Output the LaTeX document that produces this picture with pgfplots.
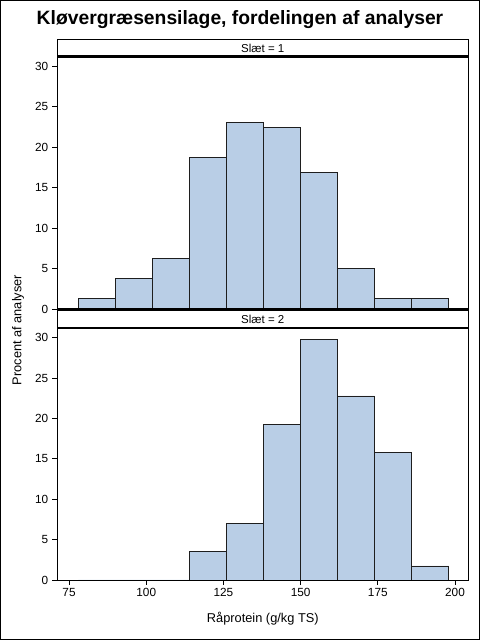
\documentclass[border=0pt]{standalone}
\usepackage{pgfplots}
\pgfplotsset{compat=1.18}
\usepackage{fontspec}
\setmainfont{Liberation Sans}
\definecolor{barfill}{RGB}{185,206,230}
\definecolor{baredge}{RGB}{30,30,30}
\begin{document}
\begin{tikzpicture}
\path[use as bounding box] (0bp,0bp) rectangle (480bp,640bp);
\draw[line width=1bp] (0.5bp,0.5bp) rectangle (479.5bp,639.5bp);
\pgfplotsset{
  panel/.style={
    scale only axis, width=411bp, height=252bp,
    xmin=71.2, xmax=204.3, ymin=0, ymax=31.15,
    axis line style={line width=0.8bp},
    ytick={0,5,10,15,20,25,30},
    tick align=outside, major tick length=5bp,
    tick style={black, line width=0.8bp},
    ytick pos=left, xtick pos=bottom,
    /pgf/number format/assume math mode=true,
    tick label style={font=\fontsize{11.8bp}{13bp}\selectfont},
    yticklabel style={xshift=-0.5bp},
  },
  hbar/.style={ybar interval, fill=barfill, draw=baredge, line width=0.8bp, mark=none},
}
\begin{axis}[panel, at={(57.3bp,331bp)}, anchor=south west, xtick=\empty]
\addplot[hbar] coordinates {(78,1.25) (90,3.75) (102,6.25) (114,18.75) (126,23.05) (138,22.45) (150,16.85) (162,5.0) (174,1.25) (186,1.25) (198,0)};
\end{axis}
\begin{axis}[panel, at={(57.3bp,60bp)}, anchor=south west, height=251.5bp,
  xtick={75,100,125,150,175,200}]
\addplot[hbar] coordinates {(78,0) (90,0) (102,0) (114,3.52) (126,7.0) (138,19.3) (150,29.8) (162,22.8) (174,15.8) (186,1.74) (198,0)};
\end{axis}
% panel headers
\draw[line width=0.8bp] (57.3bp,583.5bp) rectangle (468.3bp,600.5bp);
\draw[line width=2bp] (57.3bp,583.5bp) -- (468.3bp,583.5bp);
\node[font=\fontsize{11.5bp}{13bp}\selectfont] at (262.8bp,592bp) {Slæt = 1};
\draw[line width=0.8bp] (57.3bp,311.5bp) rectangle (468.3bp,330bp);
\draw[line width=2bp] (57.3bp,311.5bp) -- (468.3bp,311.5bp);
\draw[line width=2bp] (57.3bp,330.5bp) -- (468.3bp,330.5bp);
\node[font=\fontsize{11.5bp}{13bp}\selectfont] at (262.8bp,321bp) {Slæt = 2};
% labels
\node[font=\fontsize{19.3bp}{22bp}\selectfont\bfseries] at (240bp,620bp) {Kløvergræsensilage, fordelingen af analyser};
\node[font=\fontsize{12.8bp}{15bp}\selectfont, rotate=90] at (18bp,310bp) {Procent af analyser};
\node[font=\fontsize{12.8bp}{15bp}\selectfont] at (262.8bp,21bp) {Råprotein (g/kg TS)};
\end{tikzpicture}
\end{document}
